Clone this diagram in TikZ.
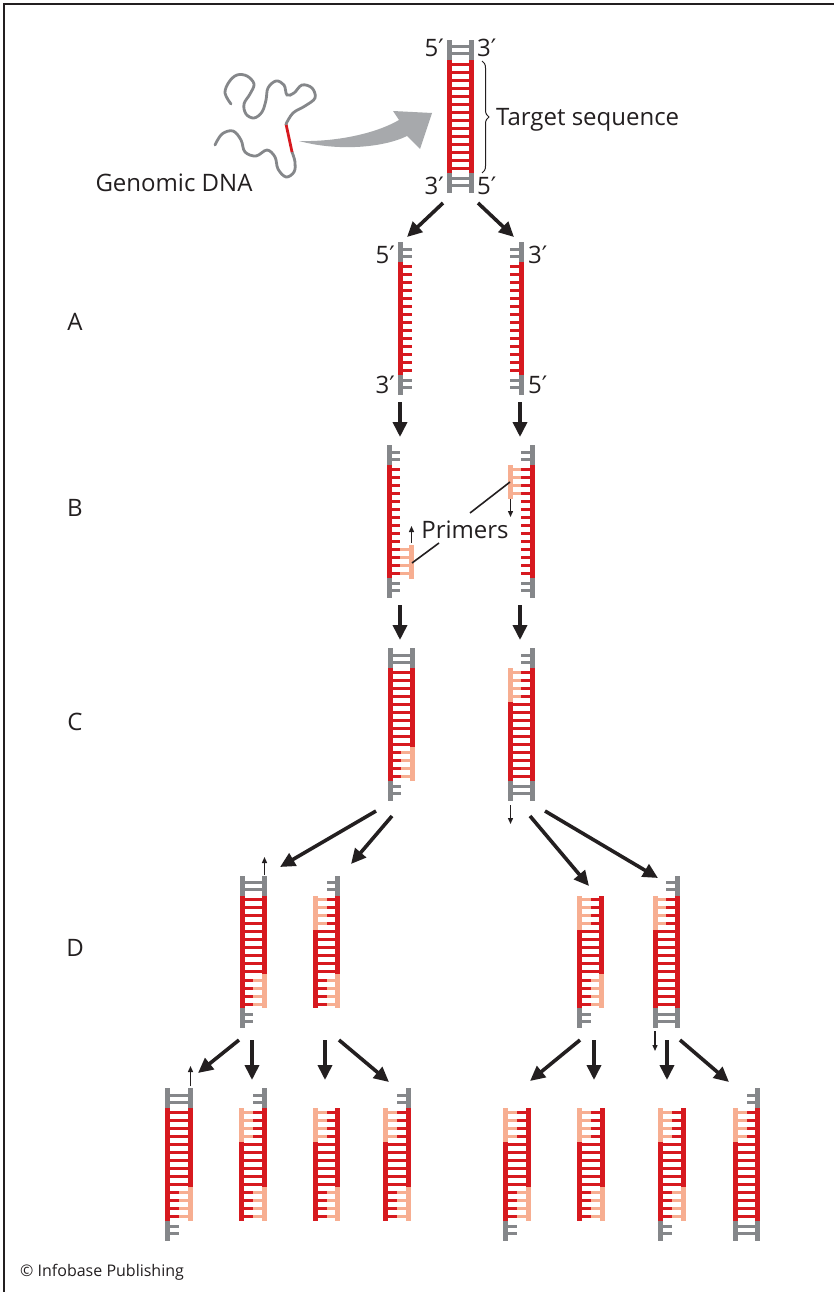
\documentclass[tikz,border=0pt]{standalone}
\usepackage{fontspec}
\setmainfont{Open Sans}
\newfontfamily\primefont{DejaVu Sans}
\usetikzlibrary{arrows.meta,decorations.pathreplacing}

\definecolor{dnared}{HTML}{D7191F}
\definecolor{dnapink}{HTML}{F7AE91}
\definecolor{dnagray}{HTML}{85878A}
\definecolor{arrowgray}{HTML}{A7A9AC}
\definecolor{ink}{HTML}{231F20}

\newcommand{\pr}{{\primefont\char"2032}}
\newcommand{\rungstep}{8.05}

% One strand: x, top of coding part, rung direction (1/-1), rung length,
% top gray end, top primer, bottom primer, bottom gray end (0/1 each)
\newcommand{\dnastrand}[8]{%
  \pgfmathsetmacro{\strX}{#1}%
  \pgfmathsetmacro{\strA}{#2}%
  \pgfmathsetmacro{\strB}{#2+14*\rungstep}%
  \pgfmathsetmacro{\strL}{#3*#4}%
  \foreach \i in {0,...,13}{\draw[rung,dnared] (\strX,{\strA+\rungstep*(\i+0.5)}) -- ++(\strL,0);}%
  \ifnum#6=1 \foreach \i in {0,...,3}{\draw[rung,dnapink] (\strX,{\strA+\rungstep*(\i+0.5)}) -- ++(\strL,0);}\fi
  \ifnum#7=1 \foreach \i in {10,...,13}{\draw[rung,dnapink] (\strX,{\strA+\rungstep*(\i+0.5)}) -- ++(\strL,0);}\fi
  \fill[dnared] (\strX-2.5,\strA) rectangle (\strX+2.5,\strB);
  \ifnum#6=1 \fill[dnapink] (\strX-2.5,\strA) rectangle (\strX+2.5,\strA+34);\fi
  \ifnum#7=1 \fill[dnapink] (\strX-2.5,\strB-34) rectangle (\strX+2.5,\strB);\fi
  \ifnum#5=1
    \draw[rung,dnagray] (\strX,\strA-6) -- ++(\strL,0);
    \draw[rung,dnagray] (\strX,\strA-13) -- ++(\strL,0);
    \fill[dnagray] (\strX-2.5,\strA-20) rectangle (\strX+2.5,\strA);
  \fi
  \ifnum#8=1
    \draw[rung,dnagray] (\strX,\strB+6) -- ++(\strL,0);
    \draw[rung,dnagray] (\strX,\strB+13) -- ++(\strL,0);
    \fill[dnagray] (\strX-2.5,\strB) rectangle (\strX+2.5,\strB+20);
  \fi
}

% A primer alone: x, top of coding part, rung direction, rung length, 1 = top / 0 = bottom
\newcommand{\dnaprimer}[5]{%
  \pgfmathsetmacro{\strX}{#1}%
  \pgfmathsetmacro{\strL}{#3*#4}%
  \ifnum#5=1
    \pgfmathsetmacro{\strA}{#2}%
    \foreach \i in {0,...,3}{\draw[rung,dnapink] (\strX,{#2+\rungstep*(\i+0.5)}) -- ++(\strL,0);}
  \else
    \pgfmathsetmacro{\strA}{#2+14*\rungstep-33}%
    \foreach \i in {10,...,13}{\draw[rung,dnapink] (\strX,{#2+\rungstep*(\i+0.5)}) -- ++(\strL,0);}
  \fi
  \fill[dnapink] (\strX-2.5,\strA) rectangle (\strX+2.5,\strA+34);
}

\begin{document}
\begin{tikzpicture}[x=1pt,y=-1pt,
  rung/.style={line width=3pt},
  lbl/.style={font=\fontsize{24}{28}\selectfont, text=ink, inner sep=0pt},
  bigarrow/.style={line width=3.6pt, draw=ink, -{Triangle[length=15pt,width=14pt]}},
  smallarrow/.style={line width=1.3pt, draw=ink, -{Triangle[length=6pt,width=5pt]}},
  leader/.style={line width=1.6pt, draw=ink}]

\useasboundingbox (0,0) rectangle (834,1292);
\fill[white] (0,0) rectangle (834,1292);
\draw[line width=1.6pt, ink] (4,1292) -- (4,4) -- (834,4);

% genomic DNA coil
\draw[dnagray, line width=2.8pt, line cap=round] plot[smooth, tension=0.6] coordinates {
  (215,145) (222,134) (233,131) (241,140) (245,152) (256,156) (267,150)
  (275,157) (278,169) (286,177) (294,172) (295,162) (292,152)};
\draw[dnared, line width=2.8pt] plot[smooth, tension=0.6] coordinates {(292,152) (289,138) (286,124)};
\draw[dnagray, line width=2.8pt, line cap=round] plot[smooth, tension=0.6] coordinates {
  (286,124) (293,113) (305,106) (315,98) (312,88) (302,85) (294,93) (287,95)
  (284,85) (276,81) (268,88) (266,100) (262,112) (254,118) (246,114) (244,104)
  (250,94) (254,84) (247,76) (237,75) (229,82) (225,93) (231,104)};
\node[lbl, anchor=center] (genomic) at (174,183) {Genomic DNA};

% sweeping arrow to the target
\fill[arrowgray] (299,141) .. controls (340,152) and (385,147) .. (407,136)
  -- (420,149) -- (432,113) -- (393,111) -- (399,120)
  .. controls (375,134) and (335,142) .. (299,141) -- cycle;

% target duplex
\dnastrand{449}{60}{1}{11}{1}{0}{0}{1}
\dnastrand{471}{60}{-1}{11}{1}{0}{0}{1}
\node[lbl, anchor=east] (t5) at (444,48) {5\pr};
\node[lbl, anchor=west] (t3) at (477,48) {3\pr};
\node[lbl, anchor=east] (b3) at (444,186) {3\pr};
\node[lbl, anchor=west] (b5) at (477,186) {5\pr};
\draw[decorate, decoration={brace, amplitude=7pt}, line width=1pt, ink] (482,61) -- (482,173);
\node[lbl, anchor=west] (target) at (496,120) {Target sequence};

% row letters
\node[lbl] (rowA) at (75,322) {A};
\node[lbl] (rowB) at (75,508) {B};
\node[lbl] (rowC) at (75,722) {C};
\node[lbl] (rowD) at (75,948) {D};

% A: separated strands
\dnastrand{400}{262}{1}{11.5}{1}{0}{0}{1}
\dnastrand{521.5}{262}{-1}{11.5}{1}{0}{0}{1}
\node[lbl, anchor=east] (a5) at (395,255) {5\pr};
\node[lbl, anchor=east] (a3) at (395,385) {3\pr};
\node[lbl, anchor=west] (a3r) at (528,255) {3\pr};
\node[lbl, anchor=west] (a5r) at (528,385) {5\pr};

% B: primers annealed
\dnastrand{389}{465}{1}{11.25}{1}{0}{0}{1}
\dnaprimer{411.5}{465}{-1}{11.25}{0}
\dnastrand{532}{465}{-1}{11.25}{1}{0}{0}{1}
\dnaprimer{510}{465}{1}{11}{1}
\node[lbl] (primers) at (465,530) {Primers};
\coordinate (pl1) at (412,563); \coordinate (pl2) at (439,543);
\coordinate (pr1) at (470,513); \coordinate (pr2) at (510,482);
\draw[leader] (pl1) -- (pl2);
\draw[leader] (pr1) -- (pr2);
\coordinate (bpa) at (411.5,543); \coordinate (bpb) at (411.5,526);
\coordinate (bpc) at (510.5,499); \coordinate (bpd) at (510.5,517);
\draw[smallarrow] (bpa) -- (bpb);
\draw[smallarrow] (bpc) -- (bpd);

% C: first copies
\dnastrand{390}{668}{1}{11.25}{1}{0}{0}{1}
\dnastrand{412.5}{668}{-1}{11.25}{1}{0}{1}{0}
\dnastrand{532.5}{668}{-1}{11.25}{1}{0}{0}{1}
\dnastrand{510}{668}{1}{11.25}{0}{1}{0}{1}
\coordinate (cpa) at (510.5,805); \coordinate (cpb) at (510.5,824);
\draw[smallarrow] (cpa) -- (cpb);

% D: second cycle
\dnastrand{242}{895.5}{1}{11.25}{1}{0}{0}{1}
\dnastrand{264.5}{895.5}{-1}{11.25}{1}{0}{1}{0}
\dnastrand{315.5}{895.5}{1}{11}{0}{1}{0}{0}
\dnastrand{337.5}{895.5}{-1}{11}{1}{0}{1}{0}
\dnastrand{579.5}{895.5}{1}{11}{0}{1}{0}{1}
\dnastrand{601.5}{895.5}{-1}{11}{0}{0}{1}{0}
\dnastrand{655}{895.5}{1}{11.25}{0}{1}{0}{1}
\dnastrand{677.5}{895.5}{-1}{11.25}{1}{0}{0}{1}
\coordinate (dpa) at (264.5,875); \coordinate (dpb) at (264.5,857);
\draw[smallarrow] (dpa) -- (dpb);
\coordinate (dpc) at (655,1031); \coordinate (dpd) at (655,1051);
\draw[smallarrow] (dpc) -- (dpd);

% E: third cycle
\dnastrand{167.5}{1108}{1}{11.5}{1}{0}{0}{1}
\dnastrand{190.5}{1108}{-1}{11.5}{1}{0}{1}{0}
\dnastrand{241.5}{1108}{1}{11.5}{0}{1}{0}{0}
\dnastrand{264.5}{1108}{-1}{11.5}{1}{0}{1}{0}
\dnastrand{315.5}{1108}{1}{11}{0}{1}{0}{0}
\dnastrand{337.5}{1108}{-1}{11}{0}{0}{1}{0}
\dnastrand{385.5}{1108}{1}{11.5}{0}{1}{0}{0}
\dnastrand{408.5}{1108}{-1}{11.5}{1}{0}{1}{0}
\dnastrand{505.5}{1108}{1}{11.5}{0}{1}{0}{1}
\dnastrand{528.5}{1108}{-1}{11.5}{0}{0}{1}{0}
\dnastrand{579.5}{1108}{1}{11.5}{0}{1}{0}{0}
\dnastrand{602.5}{1108}{-1}{11.5}{0}{0}{1}{0}
\dnastrand{660.5}{1108}{1}{11.5}{0}{1}{0}{1}
\dnastrand{683.5}{1108}{-1}{11.5}{0}{0}{1}{0}
\dnastrand{735.5}{1108}{1}{11}{0}{1}{0}{1}
\dnastrand{757.5}{1108}{-1}{11}{1}{0}{0}{1}
\coordinate (epa) at (190.5,1086); \coordinate (epb) at (190.5,1066);
\draw[smallarrow] (epa) -- (epb);

% process arrows
\coordinate (s1) at (443,203); \coordinate (e1) at (407,237);
\coordinate (s2) at (478,203); \coordinate (e2) at (514,237);
\draw[bigarrow] (s1) -- (e1);
\draw[bigarrow] (s2) -- (e2);
\coordinate (s3) at (400,402); \coordinate (e3) at (400,437);
\coordinate (s4) at (520,402); \coordinate (e4) at (520,437);
\draw[bigarrow] (s3) -- (e3);
\draw[bigarrow] (s4) -- (e4);
\coordinate (s5) at (400,605); \coordinate (e5) at (400,640);
\coordinate (s6) at (520,605); \coordinate (e6) at (520,640);
\draw[bigarrow] (s5) -- (e5);
\draw[bigarrow] (s6) -- (e6);
\coordinate (s7) at (376,811); \coordinate (e7) at (280,867);
\coordinate (s8) at (392,816); \coordinate (e8) at (351,864);
\coordinate (s9) at (530,816); \coordinate (e9) at (589,886);
\coordinate (s10) at (545,811); \coordinate (e10) at (658,878);
\draw[bigarrow] (s7) -- (e7);
\draw[bigarrow] (s8) -- (e8);
\draw[bigarrow] (s9) -- (e9);
\draw[bigarrow] (s10) -- (e10);
\coordinate (s11) at (239,1040); \coordinate (e11) at (198,1073);
\coordinate (s12) at (252,1040); \coordinate (e12) at (252,1080);
\coordinate (s13) at (325,1040); \coordinate (e13) at (325,1080);
\coordinate (s14) at (339,1040); \coordinate (e14) at (389,1082);
\coordinate (s15) at (580,1040); \coordinate (e15) at (530,1081);
\coordinate (s16) at (594,1040); \coordinate (e16) at (594,1080);
\coordinate (s17) at (667,1040); \coordinate (e17) at (667,1080);
\coordinate (s18) at (680,1040); \coordinate (e18) at (729,1082);
\foreach \k in {11,...,18}{\draw[bigarrow] (s\k) -- (e\k);}

\node[font=\fontsize{16}{19}\selectfont, text=ink, anchor=west, inner sep=0pt] (credit) at (20,1272) {\textcopyright{} Infobase Publishing};
\end{tikzpicture}
\end{document}
